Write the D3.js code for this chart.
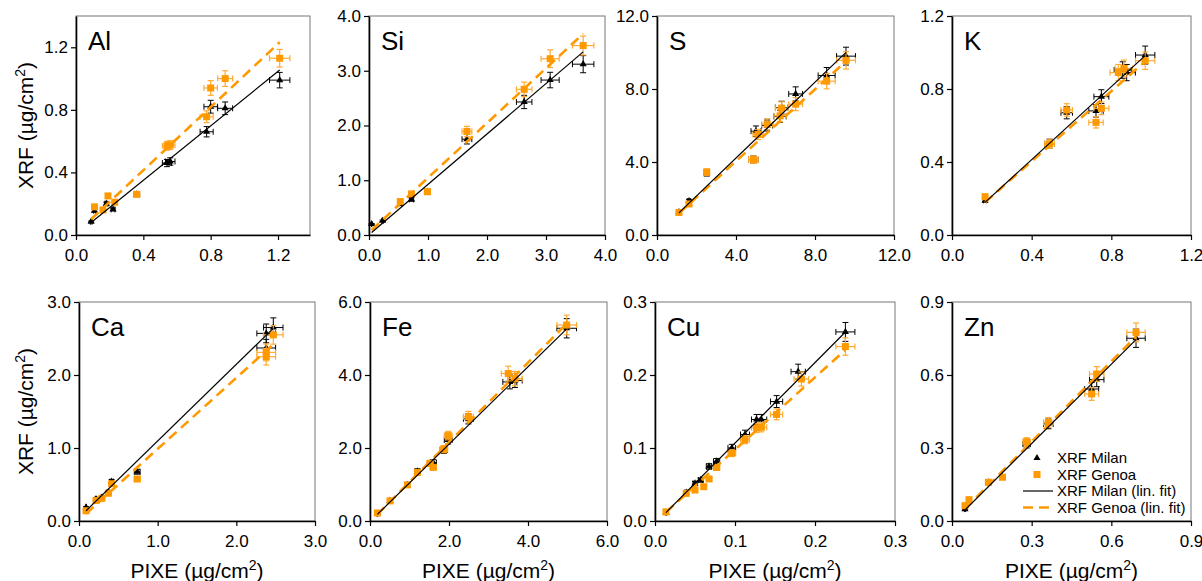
<!DOCTYPE html>
<html>
<head>
<meta charset="utf-8">
<title>XRF vs PIXE</title>
<script src="https://d3js.org/d3.v7.min.js"></script>
<style>
  body { margin: 0; background: #fff; overflow: hidden; }
  svg { position: absolute; left: 0; top: 0; font-family: "Liberation Sans", Arial, sans-serif; }
  .tick text { fill: #000; }
</style>
</head>
<body>
<script>
// element panels
var elements = ["Al", "Si", "S", "K", "Ca", "Fe", "Cu", "Zn"];
var xMax = [1.39, 4, 12, 1.2, 3, 6, 0.3, 0.9];
var yMax = [1.4, 4, 12, 1.2, 3, 6, 0.3, 0.9];
var xTicks = [[0, 0.4, 0.8, 1.2], [0, 1, 2, 3, 4], [0, 4, 8, 12], [0, 0.4, 0.8, 1.2],
              [0, 1, 2, 3], [0, 2, 4, 6], [0, 0.1, 0.2, 0.3], [0, 0.3, 0.6, 0.9]];
var yTicks = [[0, 0.4, 0.8, 1.2], [0, 1, 2, 3, 4], [0, 4, 8, 12], [0, 0.4, 0.8, 1.2],
              [0, 1, 2, 3], [0, 2, 4, 6], [0, 0.1, 0.2, 0.3], [0, 0.3, 0.6, 0.9]];

// XRF Milan (PIXE x, XRF y)
var milanX = [
  [0.09, 0.11, 0.18, 0.22, 0.36, 0.54, 0.56, 0.776, 0.80, 0.886, 1.21],
  [0.045, 0.23, 0.53, 0.72, 0.99, 1.66, 2.63, 3.07, 3.63],
  [1.11, 1.62, 2.52, 4.88, 5.01, 5.58, 6.23, 6.31, 7.02, 8.59, 9.57],
  [0.166, 0.49, 0.576, 0.723, 0.75, 0.857, 0.877, 0.97],
  [0.09, 0.216, 0.29, 0.373, 0.415, 0.74, 2.38, 2.38, 2.47],
  [0.186, 0.506, 0.945, 1.2, 1.6, 1.87, 1.98, 2.49, 3.54, 3.67, 4.98],
  [0.0137, 0.039, 0.05, 0.057, 0.0675, 0.077, 0.096, 0.1125, 0.127, 0.133, 0.152, 0.179, 0.238],
  [0.049, 0.137, 0.19, 0.281, 0.363, 0.526, 0.545, 0.693]
];
var milanY = [
  [0.085, 0.155, 0.20, 0.164, 0.26, 0.46, 0.47, 0.66, 0.82, 0.81, 0.99],
  [0.20, 0.26, 0.57, 0.65, 0.79, 1.75, 2.43, 2.83, 3.12],
  [1.25, 1.86, 3.40, 4.13, 5.69, 6.0, 6.5, 6.98, 7.73, 8.74, 9.8],
  [0.19, 0.50, 0.67, 0.68, 0.758, 0.904, 0.89, 0.986],
  [0.187, 0.30, 0.32, 0.39, 0.54, 0.675, 2.57, 2.37, 2.65],
  [0.2, 0.55, 0.99, 1.36, 1.6, 1.95, 2.22, 2.8, 3.81, 3.85, 5.28],
  [0.0115, 0.039, 0.0516, 0.056, 0.0747, 0.0816, 0.1, 0.1185, 0.139, 0.139, 0.1636, 0.2046, 0.259],
  [0.049, 0.159, 0.18, 0.316, 0.399, 0.5425, 0.581, 0.751]
];

// XRF Genoa
var genoaX = [
  [0.11, 0.16, 0.19, 0.23, 0.36, 0.54, 0.56, 0.776, 0.80, 0.886, 1.21],
  [0.53, 0.72, 0.99, 1.66, 2.63, 3.07, 3.63],
  [1.11, 1.62, 2.52, 4.88, 5.11, 5.58, 6.23, 6.31, 7.02, 8.59, 9.57],
  [0.166, 0.49, 0.576, 0.723, 0.75, 0.835, 0.863, 0.97],
  [0.09, 0.216, 0.29, 0.373, 0.415, 0.74, 2.38, 2.38, 2.47],
  [0.186, 0.506, 0.945, 1.2, 1.52, 1.6, 1.87, 1.98, 2.49, 3.5, 3.67, 4.98],
  [0.0137, 0.039, 0.05, 0.061, 0.0675, 0.077, 0.096, 0.1125, 0.127, 0.133, 0.152, 0.183, 0.238],
  [0.049, 0.064, 0.137, 0.19, 0.281, 0.363, 0.526, 0.545, 0.693]
];
var genoaY = [
  [0.18, 0.16, 0.25, 0.21, 0.26, 0.57, 0.575, 0.756, 0.94, 1.00, 1.13],
  [0.61, 0.75, 0.79, 1.89, 2.66, 3.22, 3.46],
  [1.23, 1.70, 3.45, 4.13, 5.51, 6.07, 6.53, 6.95, 7.17, 8.43, 9.57],
  [0.21, 0.50, 0.685, 0.617, 0.694, 0.89, 0.913, 0.955],
  [0.14, 0.28, 0.31, 0.38, 0.51, 0.575, 2.31, 2.25, 2.55],
  [0.22, 0.55, 0.99, 1.33, 1.58, 1.47, 1.97, 2.34, 2.86, 4.04, 3.9, 5.37],
  [0.0125, 0.0378, 0.0424, 0.047, 0.0576, 0.0733, 0.093, 0.1115, 0.1276, 0.1285, 0.146, 0.1945, 0.239],
  [0.063, 0.0876, 0.159, 0.18, 0.326, 0.405, 0.522, 0.604, 0.775]
];

// linear fits [slope, intercept]
var fitMilan = [[0.87, 0.002], [0.92, 0.005], [1.04, 0.055], [1.0, 0.013],
                [1.05, 0.046], [1.06, -0.017], [1.103, -0.0036], [1.087, -0.008]];
var fitGenoa = [[1.01, 0.01], [1.0, 0.045], [0.985, 0.1], [0.96, 0.02],
                [0.975, 0.012], [1.09, -0.023], [0.992, -0.0016], [1.10, -0.004]];

var relErr = 0.05;   // 5% uncertainty on both axes

// panel boxes
var panelLeft  = [76, 369, 657, 952, 79, 370, 655, 952];
var panelRight = [310, 605, 894, 1191, 315, 607, 895, 1191];
var rowTop = [16, 302], rowBottom = [235, 521];

var orange = "#FF9900", orangeErr = "#FFAA33";
var fmt = d3.format(".1f");

var svg = d3.select("body").append("svg")
    .attr("width", 1202)
    .attr("height", 581);

elements.forEach(function(el, i) {
    var row = i < 4 ? 0 : 1;
    var top = rowTop[row], bottom = rowBottom[row];
    var x = d3.scaleLinear().domain([0, xMax[i]]).range([panelLeft[i], panelRight[i]]);
    var y = d3.scaleLinear().domain([0, yMax[i]]).range([bottom, top]);
    var g = svg.append("g");

    // frame (top / right)
    g.append("rect")
        .attr("x", panelLeft[i]).attr("y", top)
        .attr("width", panelRight[i] - panelLeft[i]).attr("height", bottom - top)
        .attr("fill", "none").attr("stroke", "#777").attr("stroke-width", 1);

    var ax = g.append("g")
        .attr("transform", "translate(0," + bottom + ")")
        .call(d3.axisBottom(x).tickValues(xTicks[i]).tickFormat(fmt).tickSize(5).tickSizeOuter(0).tickPadding(9));
    var ay = g.append("g")
        .attr("transform", "translate(" + panelLeft[i] + ",0)")
        .call(d3.axisLeft(y).tickValues(yTicks[i]).tickFormat(fmt).tickSize(5).tickSizeOuter(0).tickPadding(3));
    [ax, ay].forEach(function(a) {
        a.select(".domain").attr("stroke", "#000").attr("stroke-width", 1.6);
        a.selectAll(".tick line").attr("stroke", "#000").attr("stroke-width", 1.2);
        a.selectAll(".tick text").attr("font-family", "Liberation Sans, Arial, sans-serif").attr("font-size", 17);
    });

    // element label
    g.append("text")
        .attr("x", panelLeft[i] + 12).attr("y", top + 34)
        .attr("font-size", 26).text(el);

    function errorBars(xs, ys, color, w) {
        var pts = xs.map(function(v, k) { return [v, ys[k]]; });
        var eg = g.append("g").attr("stroke", color).attr("stroke-width", w);
        pts.forEach(function(p) {
            var cx = x(p[0]), cy = y(p[1]);
            var x0 = x(p[0] * (1 - relErr)), x1 = x(p[0] * (1 + relErr));
            var y0 = y(p[1] * (1 - relErr)), y1 = y(p[1] * (1 + relErr));
            eg.append("line").attr("x1", x0).attr("x2", x1).attr("y1", cy).attr("y2", cy);
            eg.append("line").attr("x1", x0).attr("x2", x0).attr("y1", cy - 3).attr("y2", cy + 3);
            eg.append("line").attr("x1", x1).attr("x2", x1).attr("y1", cy - 3).attr("y2", cy + 3);
            eg.append("line").attr("x1", cx).attr("x2", cx).attr("y1", y0).attr("y2", y1);
            eg.append("line").attr("x1", cx - 3).attr("x2", cx + 3).attr("y1", y0).attr("y2", y0);
            eg.append("line").attr("x1", cx - 3).attr("x2", cx + 3).attr("y1", y1).attr("y2", y1);
        });
        return pts;
    }

    var mPts = errorBars(milanX[i], milanY[i], "#000", 1);
    g.selectAll(".milan").data(mPts).enter().append("path")
        .attr("d", d3.symbol(d3.symbolTriangle, 22))
        .attr("transform", function(d) { return "translate(" + x(d[0]) + "," + y(d[1]) + ")"; })
        .attr("fill", "#000");

    var gPts = errorBars(genoaX[i], genoaY[i], orangeErr, 1.2);
    g.selectAll(".genoa").data(gPts).enter().append("rect")
        .attr("x", function(d) { return x(d[0]) - 3.5; })
        .attr("y", function(d) { return y(d[1]) - 3.5; })
        .attr("width", 7).attr("height", 7)
        .attr("fill", orange);

    // fit lines over the PIXE range
    var ext = d3.extent(milanX[i].concat(genoaX[i]));
    g.append("line")
        .attr("x1", x(ext[0])).attr("y1", y(fitGenoa[i][0] * ext[0] + fitGenoa[i][1]))
        .attr("x2", x(ext[1])).attr("y2", y(fitGenoa[i][0] * ext[1] + fitGenoa[i][1]))
        .attr("stroke", orange).attr("stroke-width", 2.6).attr("stroke-dasharray", "10,6");
    g.append("line")
        .attr("x1", x(ext[0])).attr("y1", y(fitMilan[i][0] * ext[0] + fitMilan[i][1]))
        .attr("x2", x(ext[1])).attr("y2", y(fitMilan[i][0] * ext[1] + fitMilan[i][1]))
        .attr("stroke", "#000").attr("stroke-width", 1.2);

    // axis titles
    if (i % 4 == 0) {
        var ty = (top + bottom) / 2;
        var t = g.append("text")
            .attr("transform", "translate(33," + ty + ") rotate(-90)")
            .attr("text-anchor", "middle").attr("font-size", 21);
        t.append("tspan").text("XRF (\u00b5g/cm");
        t.append("tspan").attr("dy", -8).attr("font-size", 14).text("2");
        t.append("tspan").attr("dy", 8).text(")");
    }
    if (row == 1) {
        var t2 = g.append("text")
            .attr("x", (panelLeft[i] + panelRight[i]) / 2).attr("y", 578)
            .attr("text-anchor", "middle").attr("font-size", 21);
        t2.append("tspan").text("PIXE (\u00b5g/cm");
        t2.append("tspan").attr("dy", -8).attr("font-size", 14).text("2");
        t2.append("tspan").attr("dy", 8).text(")");
    }
});

// legend (inside Zn panel)
var legendLabels = ["XRF Milan", "XRF Genoa", "XRF Milan (lin. fit)", "XRF Genoa (lin. fit)"];
var legY = [458, 474.5, 491, 507.5];
var lg = svg.append("g");
lg.append("path").attr("d", d3.symbol(d3.symbolTriangle, 22))
    .attr("transform", "translate(1037," + legY[0] + ")").attr("fill", "#000");
lg.append("rect").attr("x", 1033.5).attr("y", legY[1] - 3.5).attr("width", 7).attr("height", 7).attr("fill", orange);
lg.append("line").attr("x1", 1023).attr("x2", 1053).attr("y1", legY[2]).attr("y2", legY[2])
    .attr("stroke", "#000").attr("stroke-width", 1.2);
lg.append("line").attr("x1", 1023).attr("x2", 1053).attr("y1", legY[3]).attr("y2", legY[3])
    .attr("stroke", orange).attr("stroke-width", 2.6).attr("stroke-dasharray", "10,6");
lg.selectAll("text").data(legendLabels).enter().append("text")
    .attr("x", 1057).attr("y", function(d, k) { return legY[k] + 5; })
    .attr("font-size", 15).text(function(d) { return d; });
</script>
</body>
</html>
